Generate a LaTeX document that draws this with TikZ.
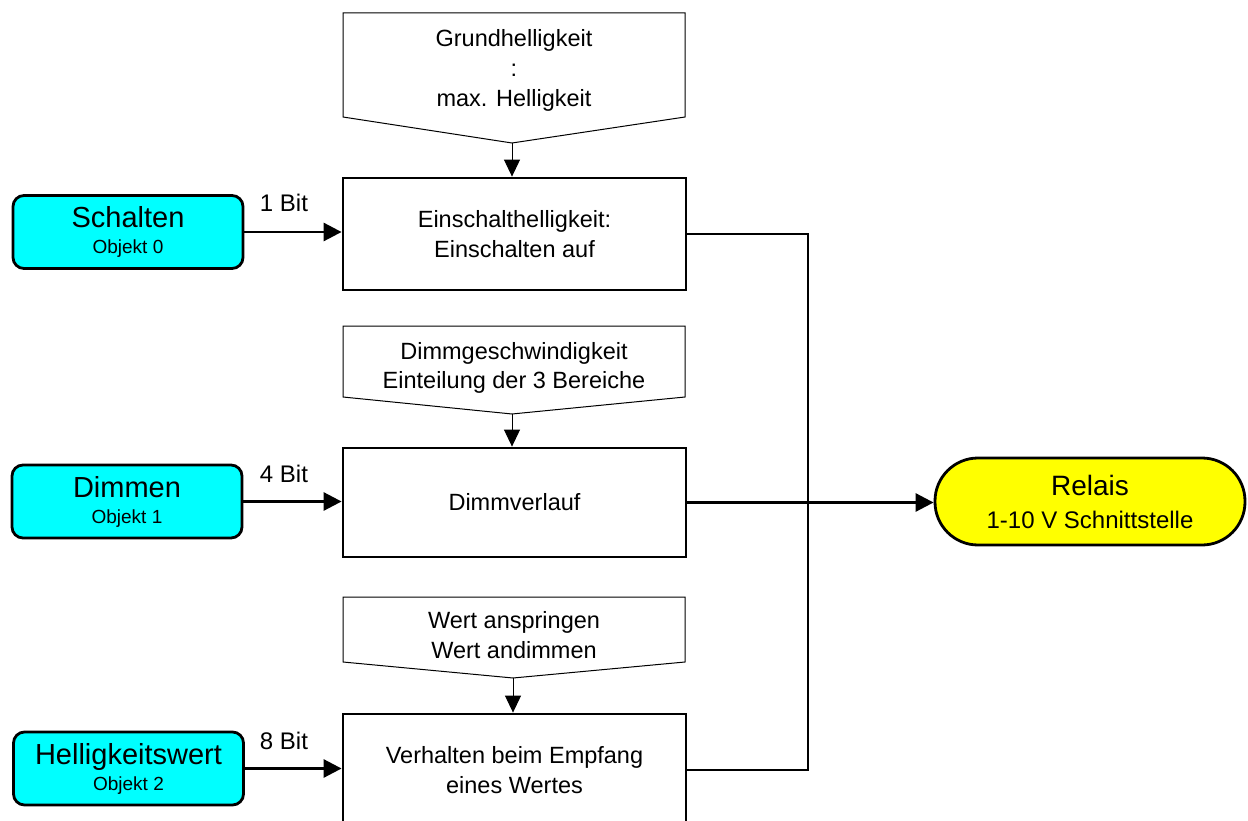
\documentclass[tikz,border=0pt]{standalone}
\usepackage{fontspec}
\setmainfont{Liberation Sans}
\usetikzlibrary{arrows.meta}
\definecolor{objcyan}{HTML}{00FFFF}
\definecolor{relyellow}{HTML}{FFFF00}
\newcommand\myfs[2]{\fontsize{#1pt}{#2pt}\selectfont}
\begin{document}
\begin{tikzpicture}[x=1pt,y=-1pt,
  mainbox/.style={draw,line width=2.8pt,minimum width=343pt,minimum height=112pt,inner sep=0pt,align=center,font=\myfs{23.5}{29.5}},
  objbox/.style={draw,line width=2.8pt,fill=objcyan,rounded corners=11pt,minimum width=230pt,minimum height=73pt,inner sep=0pt,align=center,font=\myfs{29}{28}},
  relbox/.style={draw,line width=2.8pt,fill=relyellow,rounded corners=43pt,minimum width=310pt,minimum height=87pt,inner sep=0pt,align=center,font=\myfs{28}{33}},
  penta/.style={draw,line width=1pt},
  pentatext/.style={inner sep=0pt,align=center,font=\myfs{23.5}{30}},
  bitlabel/.style={inner sep=0pt,anchor=base,font=\myfs{24}{24}},
  conn/.style={line width=2.8pt},
  thinconn/.style={line width=1pt},
  bigarrow/.style={-{Triangle[length=18pt,width=18pt]}},
  smallarrow/.style={-{Triangle[length=17pt,width=16pt]}}]
\useasboundingbox (0,0) rectangle (1248,821);
\clip (0,0) rectangle (1248,821);

% main boxes
\node[mainbox] (b1) at (514.5,234) {Einschalthelligkeit:\\Einschalten auf};
\node[mainbox,minimum height=109pt] (b2) at (514.5,502.5) {Dimmverlauf};
\node[mainbox] (b3) at (514.5,770) {Verhalten beim Empfang\\eines Wertes};

% pentagons (parameter inputs)
\draw[penta] (343,13) -- (685,13) -- (685,117) -- (512,143) -- (343,117) -- cycle;
\coordinate (p1tip) at (512,143);
\node[pentatext] (p1) at (514,70) {Grundhelligkeit\\:\\max. Helligkeit};

\draw[penta] (343,326) -- (685,326) -- (685,397) -- (512,414) -- (343,397) -- cycle;
\coordinate (p2tip) at (512,414);
\node[pentatext,font=\myfs{23.5}{29}] (p2) at (514,368) {Dimmgeschwindigkeit\\Einteilung der 3 Bereiche};

\draw[penta] (343,597) -- (685,597) -- (685,662) -- (513,678) -- (343,662) -- cycle;
\coordinate (p3tip) at (513,678);
\node[pentatext,font=\myfs{23.5}{30}] (p3) at (514,635) {Wert anspringen\\Wert andimmen};

\draw[thinconn,smallarrow] (p1tip) -- (p1tip |- b1.north);
\draw[thinconn,smallarrow] (p2tip) -- (p2tip |- b2.north);
\draw[thinconn,smallarrow] (p3tip) -- (p3tip |- b3.north);

% objects
\node[objbox] (o0) at (128,232) {Schalten\\[-2pt]{\myfs{19}{28}Objekt 0}};
\node[objbox] (o1) at (127,501.5) {Dimmen\\[-2pt]{\myfs{19}{28}Objekt 1}};
\node[objbox] (o2) at (128.5,768.5) {Helligkeitswert\\[-2pt]{\myfs{19}{28}Objekt 2}};

\draw[conn,bigarrow] (o0.east) -- (o0.east -| b1.west);
\draw[conn,bigarrow] (o1.east) -- (o1.east -| b2.west);
\draw[conn,bigarrow] (o2.east) -- (o2.east -| b3.west);

\node[bitlabel] (l0) at (284,212) {1 Bit};
\node[bitlabel] (l1) at (284,482) {4 Bit};
\node[bitlabel] (l2) at (284,749) {8 Bit};

% relay
\node[relbox] (rel) at (1090,501.5) {Relais\\{\myfs{24}{33}1-10 V Schnittstelle}};

\coordinate (bus) at (808,0);
\draw[conn] (b1.east) -| (bus |- b3.east) -- (b3.east);
\draw[conn,bigarrow] (b2.east) -- (b2.east -| rel.west);
\end{tikzpicture}
\end{document}
